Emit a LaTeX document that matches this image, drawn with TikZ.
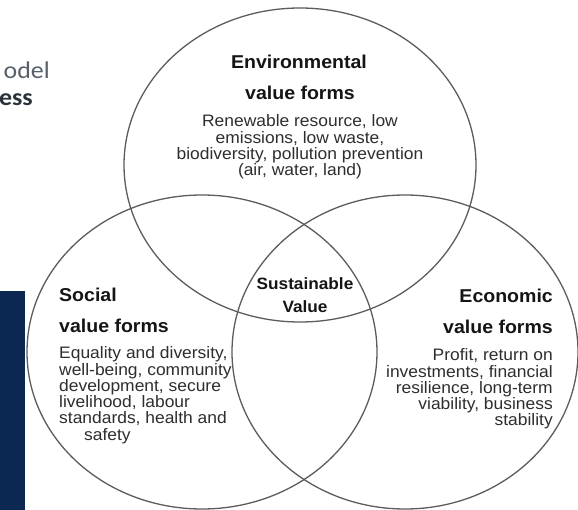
\documentclass[tikz,border=0pt]{standalone}
\usepackage{fontspec}
\setmainfont{Liberation Sans}
% Arial-metric text, widened slightly as on the slide
\newfontfamily\vennfont[FakeStretch=1.05]{Liberation Sans}
\newfontfamily\slidefont[FakeStretch=1.08]{Carlito}
\definecolor{ringgrey}{HTML}{5C5C5C}
\definecolor{headink}{HTML}{151515}
\definecolor{bodyink}{HTML}{2E2E2E}
\definecolor{slidenavy}{RGB}{10,40,82}
\definecolor{slidegrey}{HTML}{56606B}
\definecolor{slidedark}{HTML}{2A323C}
\begin{document}
\begin{tikzpicture}[x=1pt,y=-1pt,
  ring/.style={draw=ringgrey, line width=1.3pt},
  heading/.style={font={\vennfont\bfseries\fontsize{18.6}{21}\selectfont},
    text=headink, inner sep=0pt},
  core/.style={font={\vennfont\bfseries\fontsize{16.4}{19}\selectfont},
    text=headink, inner sep=0pt},
  bodytext/.style={font={\vennfont\fontsize{16.6}{16.3}\selectfont},
    text=bodyink, inner sep=0pt}]
\fill[white] (0,0) rectangle (578,510);
\useasboundingbox (0,0) rectangle (578,510);

% slide remnants on the left
\fill[slidenavy] (0,291) rectangle (25,510);
\node[font={\slidefont\fontsize{24}{27}\selectfont}, text=slidegrey,
  inner sep=0pt, anchor=base east] (modelword) at (50,79) {odel};
\node[font={\slidefont\bfseries\fontsize{24}{27}\selectfont}, text=slidedark,
  inner sep=0pt, anchor=base east] (bizword) at (33,106) {ess};

% the three value-form rings
\coordinate (envc) at (300,165);
\coordinate (socc) at (202,352);
\coordinate (ecoc) at (405,352);
\draw[ring] (envc) ellipse [x radius=176pt, y radius=157pt];
\draw[ring] (socc) ellipse [x radius=175pt, y radius=157pt];
\draw[ring] (ecoc) ellipse [x radius=173pt, y radius=157pt];

% environmental
\node[heading, anchor=base] (envtitle) at (299,69) {Environmental};
\node[heading, anchor=base] (envsub) at (300,100) {value forms};
\node[bodytext, anchor=north, align=center] (envbody) at (300,114.5)
  {Renewable resource, low\\ emissions, low waste,\\
   biodiversity, pollution prevention\\ (air, water, land)};

% social
\node[heading, anchor=base west] (soctitle) at (59,302) {Social};
\node[heading, anchor=base west] (socsub) at (59,333) {value forms};
\node[bodytext, anchor=north west, align=left] (socbody) at (59,346.5)
  {Equality and diversity,\\ well-being, community\\ development, secure\\
   livelihood, labour\\ standards, health and\\ \hspace*{25pt}safety};

% economic
\node[heading, anchor=base east] (ecotitle) at (553,303) {Economic};
\node[heading, anchor=base east] (ecosub) at (553,334) {value forms};
\node[bodytext, anchor=north east, align=right] (ecobody) at (553,348.5)
  {Profit, return on\\ investments, financial\\ resilience, long-term\\
   viability, business\\ stability};

% centre
\node[core, anchor=base] (coretop) at (305,290) {Sustainable};
\node[core, anchor=base] (corebottom) at (305,313) {Value};
\end{tikzpicture}
\end{document}
